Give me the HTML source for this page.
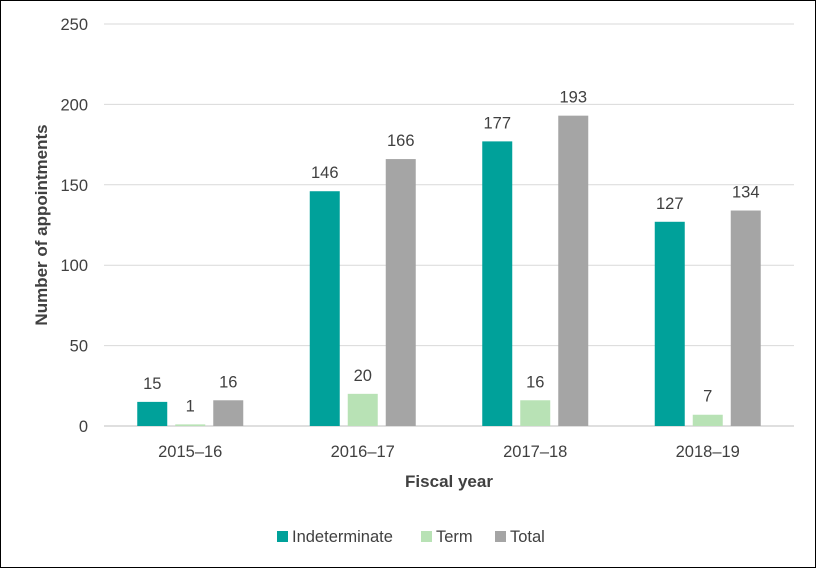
<!DOCTYPE html>
<html><head><meta charset="utf-8"><style>
body{margin:0;background:#fff;}
#c{position:relative;width:816px;height:568px;box-sizing:border-box;border:1.5px solid #000;background:#fff;overflow:hidden;font-family:"Liberation Sans",sans-serif;color:#404040;}
</style></head><body>
<div id="c">
<svg id="s" width="816" height="568" style="position:absolute;left:-1.5px;top:-1.5px"></svg>
</div>
<script>
const categories=["2015–16","2016–17","2017–18","2018–19"];
const indeterminate=[15,146,177,127];
const term=[1,20,16,7];
const total=[16,166,193,134];
const yTicks=[0,50,100,150,200,250];
const seriesNames=["Indeterminate","Term","Total"];
const colors=["#00A19A","#B8E2B5","#A5A5A5"];
const NS="http://www.w3.org/2000/svg";
const s=document.getElementById('s');
const x0=104,x1=794,y0=426,yTop=24,yMax=250;
const y=v=>y0-(v/yMax)*(y0-yTop);
const band=(x1-x0)/categories.length;
const cx=i=>x0+band*(i+0.5);
function el(t,a,txt){const e=document.createElementNS(NS,t);for(const k in a)e.setAttribute(k,a[k]);if(txt!==undefined)e.textContent=txt;s.appendChild(e);return e;}
yTicks.forEach(v=>{
 const g=el('line',{x1:x0,x2:x1,y1:y(v),y2:y(v),stroke:v===0?'#BFBFBF':'#D9D9D9','stroke-width':1});
 
 
 const t=el('text',{x:88,y:y(v)+6,'text-anchor':'end','font-size':16.5,fill:'#404040'},v);
 
 
});
const series=[indeterminate,term,total];
const bw=30,gap=8;
categories.forEach((c,i)=>{
 series.forEach((d,j)=>{
  const bx=cx(i)+(j-1)*(bw+gap)-bw/2;
  const r=el('rect',{x:bx,y:y(d[i]),width:bw,height:y0-y(d[i]),fill:colors[j]});
  
  
  const l=el('text',{x:bx+bw/2,y:y(d[i])-13,'text-anchor':'middle','font-size':16.5,fill:'#404040'},d[i]);
  
  
 });
 const t=el('text',{x:cx(i),y:457,'text-anchor':'middle','font-size':16.5,fill:'#404040'},c);
 
 
});
const xt=el('text',{x:449,y:487,'text-anchor':'middle','font-size':17,'font-weight':'bold',fill:'#404040'},'Fiscal year');


const yt=el('text',{x:0,y:0,transform:'translate(47,225) rotate(-90)','text-anchor':'middle','font-size':17,'font-weight':'bold',fill:'#404040'},'Number of appointments');


const lx=[277,421,495];
seriesNames.forEach((n,j)=>{
 const r=el('rect',{x:lx[j],y:531,width:11,height:11,fill:colors[j]});
 
 
 const t=el('text',{x:lx[j]+15,y:542,'font-size':16.5,fill:'#404040'},n);
 
 
});
</script>
</body></html>
